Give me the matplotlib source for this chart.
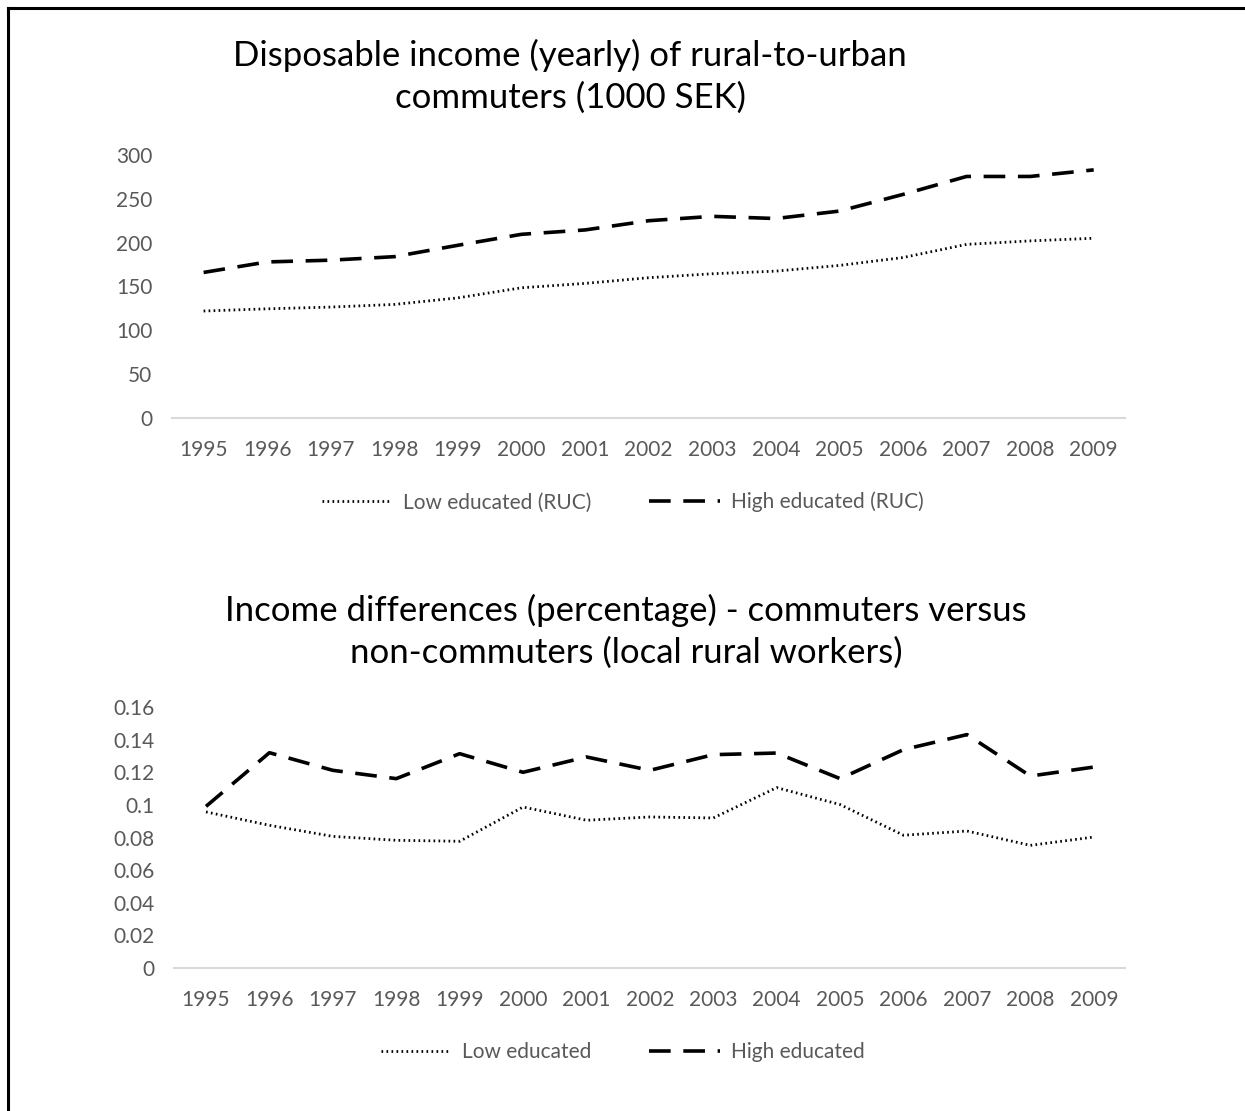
from matplotlib import pyplot as plt
from matplotlib.lines import Line2D

years = list(range(1995, 2010))

# disposable income, 1000 SEK
income_low = [122, 124.5, 126.5, 129.5, 137, 148.5, 153.5, 160, 164.5, 167.5, 174, 183, 198, 202, 205]
income_high = [166, 178, 180, 184, 197, 209.5, 214.5, 225, 230, 227.5, 236, 255, 275.5, 275.5, 283]

# income differences vs non-commuters
diff_low = [0.0957, 0.0875, 0.0807, 0.0783, 0.0777, 0.0987, 0.0906, 0.0926, 0.0920, 0.1106, 0.1002,
            0.0814, 0.0840, 0.0752, 0.0803]
diff_high = [0.0991, 0.1320, 0.1212, 0.1161, 0.1314, 0.1200, 0.1294, 0.1212, 0.1308, 0.1318, 0.1161,
             0.1339, 0.1431, 0.1177, 0.1232]

top_yticks = [0, 50, 100, 150, 200, 250, 300]
bottom_yticks = [0, 0.02, 0.04, 0.06, 0.08, 0.1, 0.12, 0.14, 0.16]
bottom_ylabels = ["0", "0.02", "0.04", "0.06", "0.08", "0.1", "0.12", "0.14", "0.16"]

plt.rcParams["font.family"] = ["Lato", "DejaVu Sans"]
TICK = "#595959"
GRID = "#d9d9d9"

fig = plt.figure(figsize=(12.45, 11.11), dpi=100)

# border on top and left
fig.add_artist(Line2D([0.0065, 0.0065], [0, 0.9925], color="black", lw=2.2, transform=fig.transFigure))
fig.add_artist(Line2D([0.0065, 1.0], [0.9925, 0.9925], color="black", lw=2.2, transform=fig.transFigure))


def style_axis(ax):
    for s in ["top", "right", "left"]:
        ax.spines[s].set_visible(False)
    ax.spines["bottom"].set_color(GRID)
    ax.spines["bottom"].set_linewidth(1.5)
    ax.tick_params(length=0, colors=TICK, labelsize=15)
    ax.tick_params(axis="x", pad=16)
    ax.tick_params(axis="y", pad=14)
    ax.set_xlim(1994.5, 2009.5)
    ax.set_xticks(years)


def add_legend(ax, y):
    ax.legend(loc="center", bbox_to_anchor=(0.5, y), bbox_transform=fig.transFigure, ncol=2,
              frameon=False, fontsize=15, labelcolor=TICK, handlelength=3.4, columnspacing=2.8,
              handletextpad=0.5)


ax1 = fig.add_axes([0.138, 0.6238, 0.766, 0.2367])
ax1.plot(years, income_low, color="black", lw=2, linestyle=(0, (0.6, 1.2)), label="Low educated (RUC)")
ax1.plot(years, income_high, color="black", lw=2.6, linestyle=(0, (6, 3.5)), label="High educated (RUC)")
style_axis(ax1)
ax1.set_ylim(0, 300)
ax1.set_yticks(top_yticks)
fig.text(0.458, 0.9316, "Disposable income (yearly) of rural-to-urban\ncommuters (1000 SEK)",
         ha="center", va="center", fontsize=25, linespacing=1.36)
add_legend(ax1, 0.548)

ax2 = fig.add_axes([0.14, 0.1287, 0.764, 0.2349])
ax2.plot(years, diff_low, color="black", lw=2, linestyle=(0, (0.6, 1.2)), label="Low educated")
ax2.plot(years, diff_high, color="black", lw=2.6, linestyle=(0, (6, 3.5)), label="High educated")
style_axis(ax2)
ax2.set_ylim(0, 0.16)
ax2.set_yticks(bottom_yticks)
ax2.set_yticklabels(bottom_ylabels)
fig.text(0.503, 0.432, "Income differences (percentage) - commuters versus\nnon-commuters (local rural workers)",
         ha="center", va="center", fontsize=25, linespacing=1.36)
add_legend(ax2, 0.053)

plt.savefig("out.png", dpi=100)
